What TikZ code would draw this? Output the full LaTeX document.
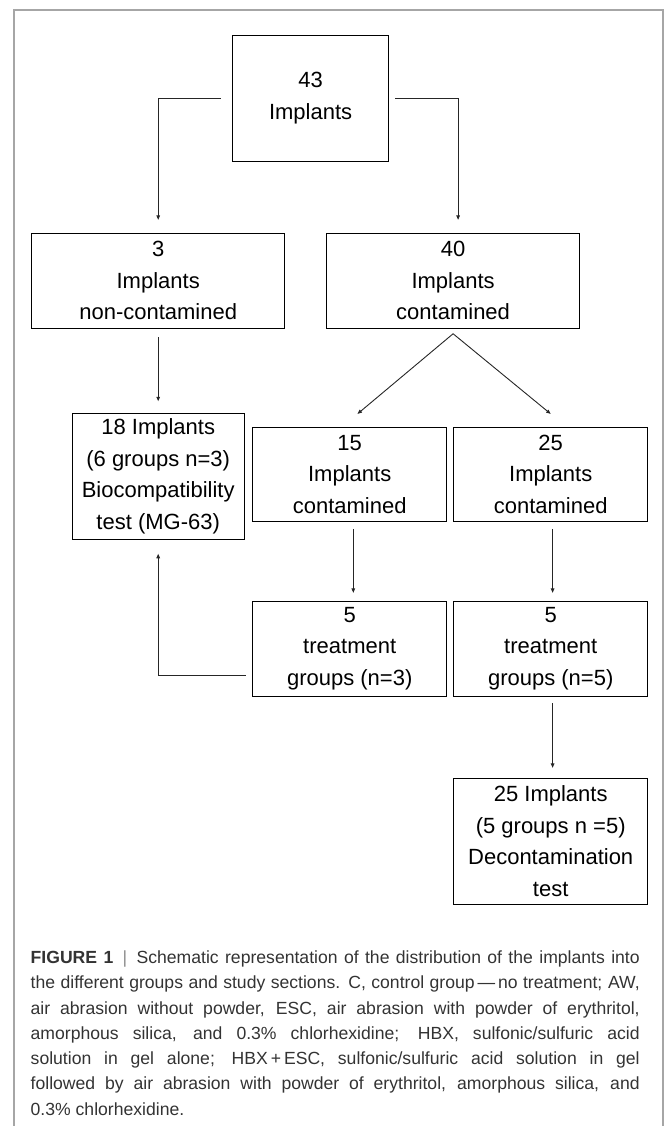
\documentclass[tikz,border=0pt]{standalone}
\usepackage{fontspec}
\setmainfont{Liberation Sans}
\usetikzlibrary{arrows.meta}

\begin{document}
\begin{tikzpicture}[x=1pt,y=-1pt,
        box/.style={draw=black!60, line width=0.9pt, inner sep=0pt, align=center, black, font={\fontsize{22}{31.6}\selectfont}},
        conn/.style={draw=black!85, line width=0.9pt, -{Triangle[length=4.5pt,width=3.6pt]}}]
        \useasboundingbox (0,0) rectangle (665,1126);
        \draw[black!35, line width=1.6pt] (14,1126) -- (14,10) -- (663,10) -- (663,1126);

        % first row
        \node[box, minimum width=155.7pt, minimum height=126pt] (all) at (310.6,98) {43\\Implants};

        % split
        \node[box, minimum width=252.6pt, minimum height=95pt] (clean) at (158.2,280.8) {3\\Implants\\non-contamined};
        \node[box, minimum width=253pt, minimum height=95pt] (dirty) at (453.1,280.8) {40\\Implants\\contamined};


        \node[box, minimum width=172.2pt, minimum height=126pt] (bio) at (158.2,476.3) {18 Implants\\(6 groups n=3)\\Biocompatibility\\test (MG-63)};
        \node[box, minimum width=193.8pt, minimum height=94.3pt] (dirtyA) at (349.7,474.2) {15\\Implants\\contamined};
        \node[box, minimum width=193.8pt, minimum height=94.3pt] (dirtyB) at (550.7,474.2) {25\\Implants\\contamined};

        % treatments
        \node[box, minimum width=193.8pt, minimum height=95pt] (treatA) at (349.7,648.5) {5\\treatment\\groups (n=3)};
        \node[box, minimum width=193.8pt, minimum height=95pt] (treatB) at (550.7,648.5) {5\\treatment\\groups (n=5)};

        \node[box, minimum width=193.8pt, minimum height=126pt] (decon) at (550.7,841.3) {25 Implants\\(5 groups n =5)\\Decontamination\\test};

        \draw[conn] ([xshift=-11.8pt]all.west) -| ([yshift=13pt]clean.north);
        \draw[conn] ([xshift=6.5pt]all.east) -| ([xshift=5pt,yshift=13pt]dirty.north);
        \draw[conn] ([yshift=-8.4pt]clean.south) -- ([yshift=11.6pt]bio.north);
        \draw[conn] ([yshift=-5pt]dirty.south) -- ([xshift=7.8pt,yshift=12.7pt]dirtyA.north);
        \draw[conn] ([yshift=-5pt]dirty.south) -- ([yshift=12.7pt]dirtyB.north);
        \draw[conn] ([xshift=3.6pt,yshift=-7pt]dirtyA.south) -- ([xshift=3.6pt,yshift=7.7pt]treatA.north);
        \draw[conn] ([xshift=1.9pt,yshift=-7pt]dirtyB.south) -- ([xshift=1.9pt,yshift=7.7pt]treatB.north);
        \draw[conn] ([xshift=-6.8pt,yshift=-26.5pt]treatA.west) -| ([yshift=-14pt]bio.south);
        \draw[conn] ([xshift=1.9pt,yshift=-6.7pt]treatB.south) -- ([xshift=1.9pt,yshift=10pt]decon.north);

        % caption
        \node[anchor=north west, inner sep=0pt, text width=609pt, align=justify, text=black!80,
              font={\fontsize{17.6}{25.3}\selectfont}] (caption) at (30.5,950.5)
              {\tolerance=9999\hyphenpenalty=10000\textbf{FIGURE 1} \,{\color{black!45}|}\, Schematic representation of the distribution of the implants into\linebreak
              the different groups and study sections. C, control group\,—\,no treatment; AW,\linebreak
              air abrasion without powder, ESC, air abrasion with powder of erythritol,\linebreak
              amorphous silica, and 0.3\% chlorhexidine; HBX, sulfonic/sulfuric acid\linebreak
              solution in gel alone; HBX\,+\,ESC, sulfonic/sulfuric acid solution in gel\linebreak
              followed by air abrasion with powder of erythritol, amorphous silica, and\linebreak
              0.3\% chlorhexidine.};
    \end{tikzpicture}
\end{document}
